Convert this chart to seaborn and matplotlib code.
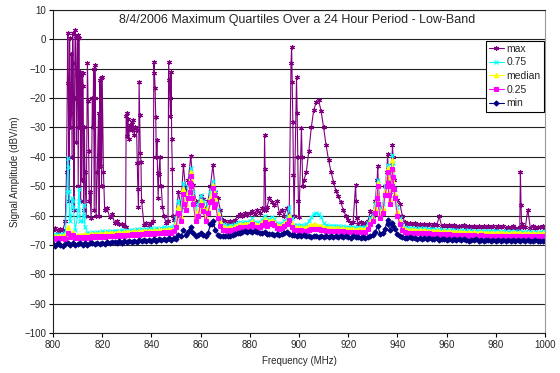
import numpy as np
import pandas as pd
import matplotlib
matplotlib.use("Agg")
import matplotlib.pyplot as plt
import seaborn as sns

# ---------------- data (dB V/m), 1 MHz grid 800..1000 ----------------
freq = list(range(800, 1001))

max_vals = [
    -65.0, -64.4, -65.3, -64.6, -64.9, -62.0, 2.1, -30.0, 2.3, 3.2,
    1.5, -11.0, -11.5, -45.0, -8.1, -52.0, -20.0, -8.7, -45.0, -14.0,
    -12.7, -58.0, -57.5, -60.5, -59.5, -62.5, -62.0, -63.0, -62.8, -63.5,
    -25.0, -30.5, -28.0, -32.5, -31.0, -14.4, -55.0, -63.2, -62.6, -63.1,
    -62.7, -7.6, -40.0, -46.0, -50.0, -60.0, -62.5, -7.6, -11.0, -61.5,
    -60.0, -52.0, -57.0, -42.7, -52.0, -48.0, -39.7, -49.5, -55.0, -56.0,
    -53.5, -54.5, -58.0, -55.0, -50.0, -42.7, -52.0, -54.0, -58.0, -61.5,
    -62.0, -62.4, -61.8, -62.3, -61.6, -60.0, -59.5, -60.2, -59.0, -59.8,
    -59.0, -58.5, -59.6, -58.2, -59.0, -57.5, -32.5, -57.0, -54.0, -55.5,
    -56.5, -55.0, -59.0, -58.0, -60.0, -57.5, -60.5, -2.5, -60.0, -12.9,
    -60.5, -30.2, -48.0, -45.0, -38.0, -30.0, -24.0, -21.5, -20.8, -24.5,
    -30.0, -36.0, -41.0, -45.0, -48.5, -51.5, -53.5, -55.5, -58.0, -60.0,
    -61.5, -62.5, -62.2, -49.5, -62.8, -62.3, -62.9, -62.5, -62.0, -58.6,
    -60.0, -55.0, -43.0, -57.0, -58.0, -50.0, -39.0, -52.0, -36.0, -53.5,
    -54.6, -56.0, -60.0, -62.3, -62.8, -62.5, -63.0, -62.6, -63.1, -62.8,
    -63.2, -62.9, -63.3, -62.8, -63.4, -63.0, -63.3, -60.3, -63.5, -63.1,
    -63.6, -63.2, -63.7, -63.3, -63.8, -63.4, -63.7, -63.3, -63.8, -63.5,
    -63.9, -63.4, -63.8, -63.5, -64.0, -63.6, -63.9, -63.5, -64.0, -63.7,
    -64.1, -63.6, -64.0, -63.7, -64.2, -63.8, -64.1, -63.6, -64.2, -64.5,
    -45.3, -63.8, -64.0, -58.0, -64.1, -63.7, -64.2, -63.8, -64.0, -63.6,
    -64.1,
]
max_extra = [
    (805.5, -45), (806.25, -15), (806.5, -55), (806.75, 0.5), (807.25, -25),
    (807.5, -5), (807.75, -40), (808.25, -8), (808.5, -58), (808.75, -20),
    (809.25, 1.0), (809.5, -35), (809.75, -12), (810.25, -50), (810.5, 0.4),
    (810.75, -30), (811.25, -55), (811.5, -12), (811.75, -48), (812.25, -16),
    (812.5, -58), (812.75, -30), (813.5, -60), (814.25, -21), (814.5, -38),
    (814.75, -55), (815.5, -61), (816.25, -30), (816.5, -10), (816.75, -58),
    (817.25, -20), (817.5, -60), (818.5, -25), (818.75, -60), (819.25, -43),
    (819.5, -13), (819.75, -50), (820.5, -45),
    (829.5, -64), (829.75, -26), (830.25, -33), (830.5, -27), (830.75, -34),
    (831.5, -29), (832.25, -31), (832.5, -27.5), (833.5, -30), (834.25, -42),
    (834.5, -51), (834.75, -57), (835.25, -25.9), (835.5, -38.7), (835.75, -41.6),
    (840.75, -62), (841.25, -11.4), (841.5, -16.5), (841.75, -26.3), (842.25, -34.2),
    (842.5, -45.5), (842.75, -54), (843.5, -39.9), (843.75, -50.1), (844.5, -57),
    (846.75, -62), (847.25, -13.8), (847.5, -20), (847.75, -26), (848.25, -34),
    (848.5, -44), (848.75, -60),
    (885.75, -58), (886.25, -44.3), (886.5, -58), (896.75, -8), (897.25, -14.4),
    (897.5, -28), (897.75, -46.1), (899.25, -25), (899.5, -40), (899.75, -55),
    (901.25, -40), (901.5, -50),
    (923.25, -55), (923.5, -61), (931.75, -48), (932.25, -50), (935.75, -45),
    (936.25, -44), (937.75, -42), (938.25, -40), (938.5, -48), (989.75, -64),
    (990.25, -56.3), (990.5, -63),
]

q75_vals = [
    -66.5, -66.2, -66.7, -66.3, -66.4, -66.0, -40.5, -62.0, -55.0, -65.0,
    -60.0, -62.0, -62.0, -64.0, -65.8, -65.9, -65.6, -65.8, -65.5, -65.7,
    -65.4, -65.6, -65.3, -65.5, -65.2, -65.4, -65.1, -65.3, -65.0, -65.2,
    -64.9, -65.1, -64.8, -65.0, -64.7, -64.9, -64.6, -64.8, -64.5, -64.7,
    -64.4, -64.6, -64.3, -64.5, -64.2, -64.0, -64.3, -63.8, -64.1, -63.5,
    -61.0, -55.0, -58.0, -48.9, -54.0, -50.0, -43.9, -52.0, -58.0, -56.0,
    -53.0, -55.0, -59.0, -56.0, -52.0, -48.4, -52.0, -58.0, -61.0, -63.0,
    -63.3, -63.6, -63.1, -63.4, -62.9, -62.6, -62.2, -62.5, -62.1, -62.3,
    -61.8, -61.0, -62.2, -62.5, -62.2, -61.5, -60.0, -61.8, -61.2, -60.5,
    -61.3, -62.5, -62.9, -62.6, -61.8, -61.0, -57.0, -61.0, -63.3, -63.1,
    -63.5, -63.3, -63.4, -63.0, -62.0, -60.5, -59.5, -59.0, -59.5, -60.5,
    -62.5, -63.3, -63.4, -63.6, -63.5, -63.7, -63.6, -63.8, -63.7, -63.9,
    -63.8, -64.0, -63.9, -64.1, -64.0, -63.9, -64.1, -63.8, -62.5, -61.0,
    -60.0, -56.0, -47.8, -58.0, -56.0, -50.0, -42.7, -53.0, -39.3, -51.0,
    -57.0, -61.0, -63.2, -64.0, -64.2, -64.3, -64.4, -64.2, -64.5, -64.3,
    -64.5, -64.4, -64.6, -64.5, -64.7, -64.6, -64.8, -64.7, -64.9, -64.8,
    -64.9, -64.8, -65.0, -64.9, -65.1, -65.0, -65.1, -64.9, -65.2, -65.0,
    -65.2, -65.1, -65.3, -65.2, -65.1, -65.3, -65.2, -65.4, -65.3, -65.2,
    -65.4, -65.3, -65.5, -65.3, -65.4, -65.6, -65.4, -65.5, -65.3, -65.5,
    -65.4, -65.6, -65.5, -65.4, -65.6, -65.5, -65.7, -65.5, -65.6, -65.4,
    -65.5,
]
q75_extra = [
    (805.75, -52), (806.25, -43.3), (806.5, -51.8), (806.75, -60), (807.75, -54),
    (808.25, -57), (810.25, -58), (810.5, -51), (810.75, -55), (812.5, -56.3),
    (812.75, -60), (855.75, -47), (856.25, -46), (865.25, -51), (935.75, -47),
    (936.25, -45), (937.75, -46), (938.25, -42),
]

median_vals = [
    -67.0, -66.9, -67.1, -66.8, -66.9, -66.7, -64.0, -66.6, -65.5, -66.8,
    -66.7, -66.5, -66.6, -66.4, -66.5, -66.3, -66.4, -66.2, -66.3, -66.1,
    -66.2, -66.0, -66.1, -65.9, -66.0, -65.8, -65.9, -65.7, -65.8, -65.6,
    -65.7, -65.5, -65.6, -65.4, -65.5, -65.3, -65.4, -65.2, -65.3, -65.1,
    -65.2, -65.0, -65.1, -64.9, -65.0, -64.8, -64.9, -64.6, -64.8, -64.5,
    -62.5, -57.0, -60.0, -51.0, -56.0, -52.0, -45.0, -54.0, -60.0, -58.0,
    -55.0, -57.0, -60.5, -57.5, -54.0, -49.5, -54.0, -59.5, -62.0, -64.0,
    -64.0, -64.3, -63.8, -64.1, -63.6, -63.3, -62.9, -63.2, -62.8, -63.0,
    -62.5, -61.8, -62.8, -63.2, -62.9, -62.3, -61.2, -62.5, -62.0, -61.5,
    -62.2, -63.2, -63.6, -63.3, -62.6, -62.0, -60.0, -62.5, -64.0, -63.8,
    -64.2, -64.0, -64.1, -63.9, -63.6, -63.3, -63.0, -63.2, -63.4, -63.7,
    -64.0, -64.2, -64.1, -64.3, -64.2, -64.4, -64.3, -64.5, -64.4, -64.6,
    -64.5, -64.7, -64.6, -64.8, -64.7, -64.6, -64.8, -64.5, -63.5, -62.0,
    -61.0, -57.5, -49.0, -59.5, -57.5, -51.5, -43.9, -54.5, -41.0, -52.5,
    -58.5, -62.0, -63.8, -64.6, -64.8, -64.9, -65.0, -64.8, -65.1, -64.9,
    -65.1, -65.0, -65.2, -65.1, -65.3, -65.2, -65.4, -65.3, -65.5, -65.4,
    -65.5, -65.4, -65.6, -65.5, -65.7, -65.6, -65.7, -65.5, -65.8, -65.6,
    -65.8, -65.7, -65.9, -65.8, -65.7, -65.9, -65.8, -66.0, -65.9, -65.8,
    -66.0, -65.9, -66.1, -65.9, -66.0, -66.2, -66.0, -66.1, -65.9, -66.1,
    -66.0, -66.2, -66.1, -66.0, -66.2, -66.1, -66.3, -66.1, -66.2, -66.0,
    -66.1,
]
median_extra = [
    (855.75, -48), (856.25, -47.5), (865.25, -52), (936.25, -47), (937.75, -48),
    (938.25, -44),
]

q25_vals = [
    -68.0, -67.6, -68.1, -67.8, -67.5, -67.9, -66.0, -67.4, -66.5, -67.7,
    -67.4, -67.7, -67.3, -67.6, -67.2, -67.5, -67.1, -67.4, -67.0, -67.3,
    -67.0, -67.2, -66.9, -67.1, -66.8, -67.0, -66.7, -66.9, -66.6, -66.8,
    -66.5, -66.7, -66.4, -66.6, -66.3, -66.5, -66.2, -66.4, -66.1, -66.3,
    -66.0, -66.2, -65.9, -66.1, -65.8, -65.6, -65.9, -65.5, -65.8, -65.4,
    -64.0, -59.0, -62.0, -52.5, -58.0, -54.0, -46.5, -56.0, -62.0, -60.0,
    -56.5, -58.5, -62.0, -59.0, -55.5, -50.5, -56.0, -61.0, -63.5, -65.0,
    -65.0, -65.3, -64.8, -65.1, -64.6, -64.3, -63.9, -64.2, -63.8, -64.0,
    -63.5, -62.8, -63.8, -64.2, -63.9, -63.3, -62.2, -63.5, -62.9, -62.5,
    -63.2, -64.2, -64.6, -64.3, -63.6, -63.0, -61.5, -64.0, -65.0, -64.8,
    -65.2, -65.0, -65.3, -65.1, -64.8, -64.6, -64.5, -64.7, -64.6, -64.9,
    -65.0, -65.2, -65.1, -65.3, -65.2, -65.4, -65.3, -65.5, -65.4, -65.6,
    -65.5, -65.7, -65.6, -65.8, -65.7, -65.6, -65.8, -65.5, -64.5, -63.0,
    -62.0, -59.0, -50.0, -61.0, -59.0, -53.0, -45.0, -56.0, -44.0, -54.0,
    -60.0, -63.0, -64.8, -65.6, -65.8, -65.9, -66.0, -65.8, -66.1, -65.9,
    -66.1, -66.0, -66.2, -66.1, -66.3, -66.2, -66.4, -66.3, -66.5, -66.4,
    -66.5, -66.4, -66.6, -66.5, -66.7, -66.6, -66.7, -66.5, -66.8, -66.6,
    -66.8, -66.7, -66.9, -66.8, -66.7, -66.9, -66.8, -67.0, -66.9, -66.8,
    -67.0, -66.9, -67.1, -66.9, -67.0, -67.2, -67.0, -67.1, -66.9, -67.1,
    -67.0, -67.2, -67.1, -67.0, -67.2, -67.1, -67.3, -67.1, -67.2, -67.0,
    -67.1,
]
q25_extra = [
    (853.25, -56), (855.5, -52), (855.75, -49), (856.25, -50), (856.5, -54),
    (864.75, -55), (865.25, -53), (865.5, -57), (931.75, -54), (932.25, -56),
    (935.75, -50), (936.25, -49), (936.5, -53), (937.75, -50), (938.25, -47),
    (938.5, -51),
]

min_vals = [
    -69.8, -70.3, -69.5, -70.1, -70.4, -69.6, -69.4, -70.0, -69.5, -70.1,
    -69.7, -69.3, -69.9, -69.4, -70.0, -69.5, -69.2, -69.8, -69.3, -69.7,
    -69.3, -69.6, -69.0, -69.5, -69.1, -68.9, -69.4, -68.8, -69.3, -68.7,
    -69.0, -68.6, -69.0, -68.5, -68.9, -68.4, -68.8, -68.3, -68.7, -68.2,
    -68.5, -68.1, -68.5, -68.0, -68.4, -67.9, -68.3, -67.8, -68.2, -67.7,
    -67.9, -66.5, -67.0, -65.0, -66.5, -65.5, -64.0, -66.0, -67.0, -66.5,
    -66.0, -66.5, -67.0, -66.0, -63.0, -62.0, -65.0, -66.5, -67.0, -67.0,
    -67.1, -66.8, -67.0, -66.6, -66.3, -66.0, -65.8, -65.6, -65.4, -65.5,
    -65.3, -65.6, -65.4, -65.7, -65.9, -66.1, -65.6, -66.2, -66.4, -66.2,
    -66.5, -66.3, -66.6, -66.4, -66.0, -65.6, -66.3, -66.7, -66.5, -66.8,
    -66.7, -67.0, -66.7, -67.1, -66.8, -67.2, -66.9, -67.1, -67.3, -67.0,
    -67.2, -66.9, -67.3, -67.0, -67.4, -67.1, -67.3, -67.0, -67.4, -67.1,
    -67.3, -67.5, -67.1, -67.4, -67.2, -67.5, -67.3, -67.6, -67.2, -67.0,
    -66.5, -65.5, -63.7, -66.2, -65.8, -64.5, -61.4, -65.0, -62.5, -64.5,
    -66.3, -67.0, -67.4, -67.6, -67.7, -67.4, -67.8, -67.5, -67.9, -67.6,
    -67.9, -67.7, -68.0, -67.6, -68.0, -68.1, -67.8, -68.2, -67.9, -68.1,
    -68.2, -67.9, -68.3, -68.0, -68.3, -68.1, -68.4, -68.0, -68.3, -68.5,
    -68.2, -68.4, -68.1, -68.5, -68.2, -68.6, -68.3, -68.2, -68.6, -68.3,
    -68.5, -68.2, -68.6, -68.3, -68.7, -68.4, -68.6, -68.3, -68.7, -68.4,
    -68.6, -68.3, -68.7, -68.4, -68.6, -68.8, -68.4, -68.7, -68.5, -68.8,
    -68.5,
]
min_extra = [(855.75, -65), (864.75, -63), (936.25, -63), (938.25, -63.5)]

series_names = ["max", "0.75", "median", "0.25", "min"]
series_colors = ["#800080", "#00FFFF", "#FFFF00", "#FF00FF", "#000080"]
series_markers = [(6, 2, 0), "x", "^", "s", "D"]
series_msize = [3.6, 3.2, 3.2, 3.0, 2.6]

title_text = "8/4/2006 Maximum Quartiles Over a 24 Hour Period - Low-Band"
x_label = "Frequency (MHz)"
y_label = "Signal Amplitude (dBV/m)"
x_ticks = list(range(800, 1001, 20))
y_ticks = list(range(-100, 11, 10))


def build(base, extra):
    f = freq + [p[0] for p in extra]
    v = base + [p[1] for p in extra]
    return pd.DataFrame({"f": f, "v": v}).sort_values("f").reset_index(drop=True)


data = [build(max_vals, max_extra), build(q75_vals, q75_extra),
        build(median_vals, median_extra), build(q25_vals, q25_extra),
        build(min_vals, min_extra)]

# ---------------- figure ----------------
sns.set_theme(style="white")
plt.rcParams["font.family"] = ["Liberation Sans", "DejaVu Sans"]

fig = plt.figure(figsize=(5.6, 3.73), dpi=100)
ax = fig.add_axes([53 / 560, 1 - 333 / 373, 492 / 560, 323 / 373])

for df, name, col, mk, ms in zip(data, series_names, series_colors,
                                 series_markers, series_msize):
    sns.lineplot(data=df, x="f", y="v", ax=ax, color=col, marker=mk,
                 markersize=ms, markeredgecolor=col, markerfacecolor=col,
                 markeredgewidth=0.8, linewidth=0.8, estimator=None,
                 sort=False, label=name)

ax.set_xlim(800, 1000)
ax.set_ylim(-100, 10)
ax.set_xticks(x_ticks)
ax.set_yticks(y_ticks)
ax.tick_params(axis="both", labelsize=7, length=3, width=0.8,
               color="black", pad=2, direction="out",
               bottom=True, left=True)
ax.yaxis.grid(True, color="#222222", linewidth=0.8)
ax.xaxis.grid(False)
ax.set_axisbelow(True)
for s in ["left", "bottom", "top"]:
    ax.spines[s].set_color("#222222")
    ax.spines[s].set_linewidth(0.8)
ax.spines["right"].set_color("#9a9a9a")
ax.spines["right"].set_linewidth(0.8)

ax.set_xlabel(x_label, fontsize=7, labelpad=4)
ax.set_ylabel(y_label, fontsize=7, labelpad=3)
ax.text(0.497, 0.969, title_text, transform=ax.transAxes, ha="center",
        va="center", fontsize=9)

leg = ax.legend(loc="upper right", bbox_to_anchor=(0.998, 0.905),
                fontsize=7.5, frameon=True, fancybox=False,
                edgecolor="black", framealpha=1, borderpad=0.3,
                labelspacing=0.35, handlelength=1.4, handletextpad=0.3,
                borderaxespad=0)
leg.get_frame().set_linewidth(0.8)

fig.savefig("out.png", dpi=100)
